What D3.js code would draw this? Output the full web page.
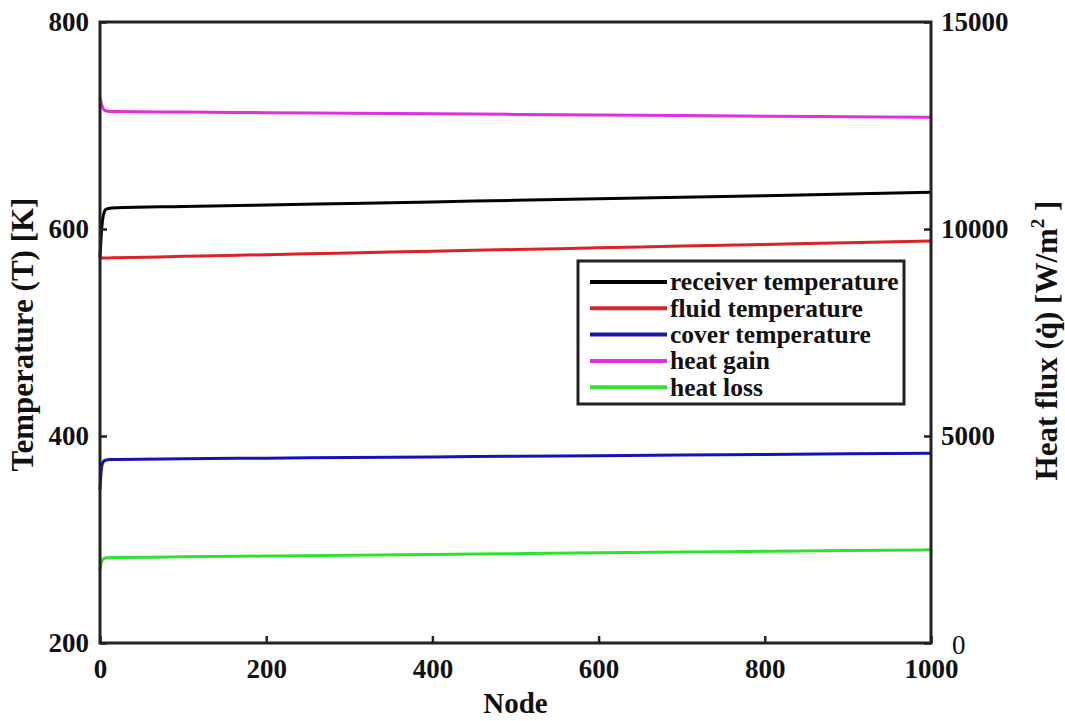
<!DOCTYPE html>
<html>
<head>
<meta charset="utf-8">
<script src="https://cdn.jsdelivr.net/npm/d3@7"></script>
<style>
  html, body { margin: 0; padding: 0; background: #fff; }
  svg { display: block; font-family: "Liberation Serif", "Times New Roman", serif; }
</style>
</head>
<body>
<svg id="chart" width="1065" height="721"></svg>
<script>
// Node positions along the receiver
const nodes = [0, 1, 2, 3, 4, 5, 6, 8, 10, 12, 15, 20, 100, 200, 300, 400, 500, 600, 700, 800, 900, 1000];

// Temperatures [K] (left axis)
const receiverTemp = [572, 588, 600, 608, 613, 616, 618, 619.3, 619.8, 620.1, 620.3, 620.5, 621.7, 623.2, 624.7, 626.2, 627.7, 629.2, 630.7, 632.2, 633.8, 635.5];
const fluidTemp    = [571.9, 571.9, 571.9, 571.95, 571.95, 572.0, 572.0, 572.0, 572.05, 572.1, 572.15, 572.2, 573.6, 575.2, 576.9, 578.5, 580.2, 581.8, 583.5, 585.1, 586.8, 588.4];
const coverTemp    = [348, 362, 370, 373.5, 375, 376, 376.5, 376.9, 377.1, 377.2, 377.3, 377.4, 378.0, 378.6, 379.2, 379.8, 380.4, 381.0, 381.6, 382.2, 382.8, 383.3];

// Heat fluxes [W/m^2] (right axis)
const heatGain = [13190, 13080, 13000, 12945, 12905, 12880, 12865, 12850, 12843, 12840, 12838, 12836, 12824, 12810, 12796, 12782, 12768, 12754, 12740, 12726, 12713, 12700];
const heatLoss = [1765, 1880, 1960, 2005, 2030, 2045, 2052, 2058, 2060, 2062, 2063, 2064, 2082, 2101, 2120, 2139, 2158, 2177, 2196, 2214, 2232, 2250];

// Tick values
const nodeTicks = [0, 200, 400, 600, 800, 1000];
const tempTicks = [200, 400, 600, 800];
const fluxTicks = [0, 5000, 10000, 15000];

const seriesNames = ["receiver temperature", "fluid temperature", "cover temperature", "heat gain", "heat loss"];
const seriesColors = ["#000000", "#d82424", "#1414b4", "#e02ee0", "#2ee22e"];

const svg = d3.select("#chart");
const plot = { left: 100, right: 931, top: 22, bottom: 643 };

const x = d3.scaleLinear().domain([0, 1000]).range([plot.left, plot.right]);
const yT = d3.scaleLinear().domain([200, 800]).range([plot.bottom, plot.top]);
const yQ = d3.scaleLinear().domain([0, 15000]).range([plot.bottom, plot.top]);

const series = [
  { values: receiverTemp, scale: yT },
  { values: fluidTemp, scale: yT },
  { values: coverTemp, scale: yT },
  { values: heatGain, scale: yQ },
  { values: heatLoss, scale: yQ }
];

// Curves
series.forEach((s, i) => {
  const line = d3.line()
    .x((d, j) => x(nodes[j]))
    .y(d => s.scale(d))
    .curve(d3.curveMonotoneX);
  svg.append("path")
    .datum(s.values)
    .attr("fill", "none")
    .attr("stroke", seriesColors[i])
    .attr("stroke-width", 3)
    .attr("stroke-linejoin", "round")
    .attr("d", line);
});

const plain = d3.format("d");
const tickFont = g => g.selectAll("text")
  .attr("font-size", 27)
  .attr("font-weight", "bold")
  .attr("fill", "#111")
  .attr("font-family", "'Liberation Serif', 'Times New Roman', serif");

// Left axis (temperature)
svg.append("g")
  .attr("transform", `translate(${plot.left},0)`)
  .call(d3.axisLeft(yT).tickValues(tempTicks).tickFormat(plain).tickSize(-7).tickPadding(11))
  .call(g => g.select(".domain").remove())
  .call(g => g.selectAll("line").attr("stroke", "#222").attr("stroke-width", 2.5))
  .call(tickFont);

// Right axis (heat flux)
svg.append("g")
  .attr("transform", `translate(${plot.right},0)`)
  .call(d3.axisRight(yQ).tickValues(fluxTicks).tickFormat(plain).tickSize(-7).tickPadding(10))
  .call(g => g.select(".domain").remove())
  .call(g => g.selectAll("line").attr("stroke", "#222").attr("stroke-width", 2.5))
  .call(tickFont)
  .call(g => g.selectAll("text").filter(d => d === 0).attr("font-weight", "normal").attr("dx", 11).attr("dy", "0.4em"));

// Bottom axis (node)
svg.append("g")
  .attr("transform", `translate(0,${plot.bottom})`)
  .call(d3.axisBottom(x).tickValues(nodeTicks).tickFormat(plain).tickSize(-7).tickPadding(16))
  .call(g => g.select(".domain").remove())
  .call(g => g.selectAll("line").attr("stroke", "#222").attr("stroke-width", 2.5))
  .call(tickFont);

// Plot frame
svg.append("rect")
  .attr("x", plot.left).attr("y", plot.top)
  .attr("width", plot.right - plot.left).attr("height", plot.bottom - plot.top)
  .attr("fill", "none").attr("stroke", "#222").attr("stroke-width", 3);

// Axis titles
svg.append("text")
  .attr("transform", `translate(33,${(plot.top + plot.bottom) / 2 + 2}) rotate(-90)`)
  .attr("text-anchor", "middle")
  .attr("font-size", 31).attr("font-weight", "bold").attr("fill", "#111")
  .text("Temperature (T) [K]");

const rightTitle = svg.append("text")
  .attr("transform", `translate(1057,${(plot.top + plot.bottom) / 2 + 8}) rotate(-90)`)
  .attr("text-anchor", "middle")
  .attr("font-size", 31).attr("font-weight", "bold").attr("fill", "#111");
rightTitle.append("tspan").text("Heat flux (q\u0307) [W/m");
rightTitle.append("tspan").attr("font-size", 19).attr("dy", -13).text("2");
rightTitle.append("tspan").attr("dy", 13).text(" ]");

svg.append("text")
  .attr("x", (plot.left + plot.right) / 2)
  .attr("y", 713)
  .attr("text-anchor", "middle")
  .attr("font-size", 29).attr("font-weight", "bold").attr("fill", "#111")
  .text("Node");

// Legend
const legend = svg.append("g").attr("transform", "translate(578,261)");
legend.append("rect")
  .attr("width", 326).attr("height", 143)
  .attr("fill", "#fff").attr("stroke", "#222").attr("stroke-width", 3);
seriesNames.forEach((name, i) => {
  const yy = 21 + i * 26.3;
  legend.append("line")
    .attr("x1", 12).attr("x2", 89).attr("y1", yy).attr("y2", yy)
    .attr("stroke", seriesColors[i]).attr("stroke-width", 4);
  legend.append("text")
    .attr("x", 92).attr("y", yy).attr("dy", "0.33em")
    .attr("font-size", 25.5).attr("font-weight", "bold").attr("fill", "#111")
    .text(name);
});
</script>
</body>
</html>
